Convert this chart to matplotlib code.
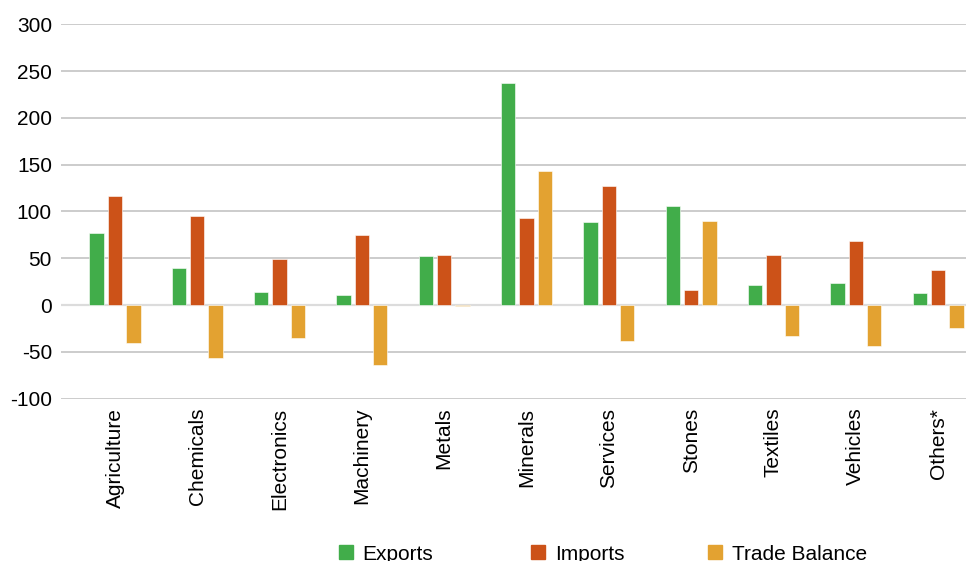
import numpy as np
import matplotlib
matplotlib.use("Agg")
import matplotlib.pyplot as plt
from matplotlib.lines import Line2D

plt.rcParams['font.family'] = ['Liberation Sans', 'DejaVu Sans']
plt.rcParams['axes.unicode_minus'] = False

categories = ['Agriculture', 'Chemicals', 'Electronics', 'Machinery', 'Metals',
              'Minerals', 'Services', 'Stones', 'Textiles', 'Vehicles', 'Others*']
exports = [77, 40, 14, 11, 52, 237, 89, 106, 21, 24, 13]
imports = [117, 95, 49, 75, 53, 93, 127, 16, 54, 68, 37]
balance = [-40, -56, -35, -64, -1, 143, -38, 90, -33, -44, -25]

series = ['Exports', 'Imports', 'Trade Balance']
colors = ['#41ad4a', '#cc5218', '#e3a231']

fig = plt.figure(figsize=(9.66, 5.61), dpi=100)
ax = fig.add_axes([61/966, 1 - 398.7/561, 1 - 61/966, (398.7 - 24.3)/561])

x = np.arange(len(categories))
w = 0.174
step = 0.223
for i, (vals, col) in enumerate(zip([exports, imports, balance], colors)):
    ax.bar(x + (i - 1)*step, vals, width=w, color=col, zorder=3,
           edgecolor='white', linewidth=0.4)

ax.set_ylim(-100, 300)
ax.set_xlim(-0.656, 10.34)
ax.set_yticks(np.arange(-100, 301, 50))
ax.yaxis.grid(True, color='#bfbfbf', linewidth=1.1, zorder=0)
ax.axhline(0, color='#dcdcdc', linewidth=1.6, zorder=2)
ax.set_axisbelow(True)
for s in ax.spines.values():
    s.set_visible(False)
ax.set_xticks(x)
ax.set_xticklabels(categories, rotation=90)
ax.tick_params(axis='both', length=0, labelsize=15, colors='black')
ax.tick_params(axis='x', pad=6.5)
ax.tick_params(axis='y', pad=6.5)

# legend entries placed one by one along the bottom
legend_x = [339, 531, 708]
for name, col, lx in zip(series, colors, legend_x):
    h = Line2D([], [], marker='s', linestyle='none', color=col, markersize=10.5)
    fig.legend([h], [name], loc='center left', bbox_to_anchor=(lx/966, 1 - 554/561),
               frameon=False, fontsize=15, handlelength=0.7, handletextpad=0.44,
               borderpad=0, borderaxespad=0)

fig.savefig('out.png', dpi=100)
